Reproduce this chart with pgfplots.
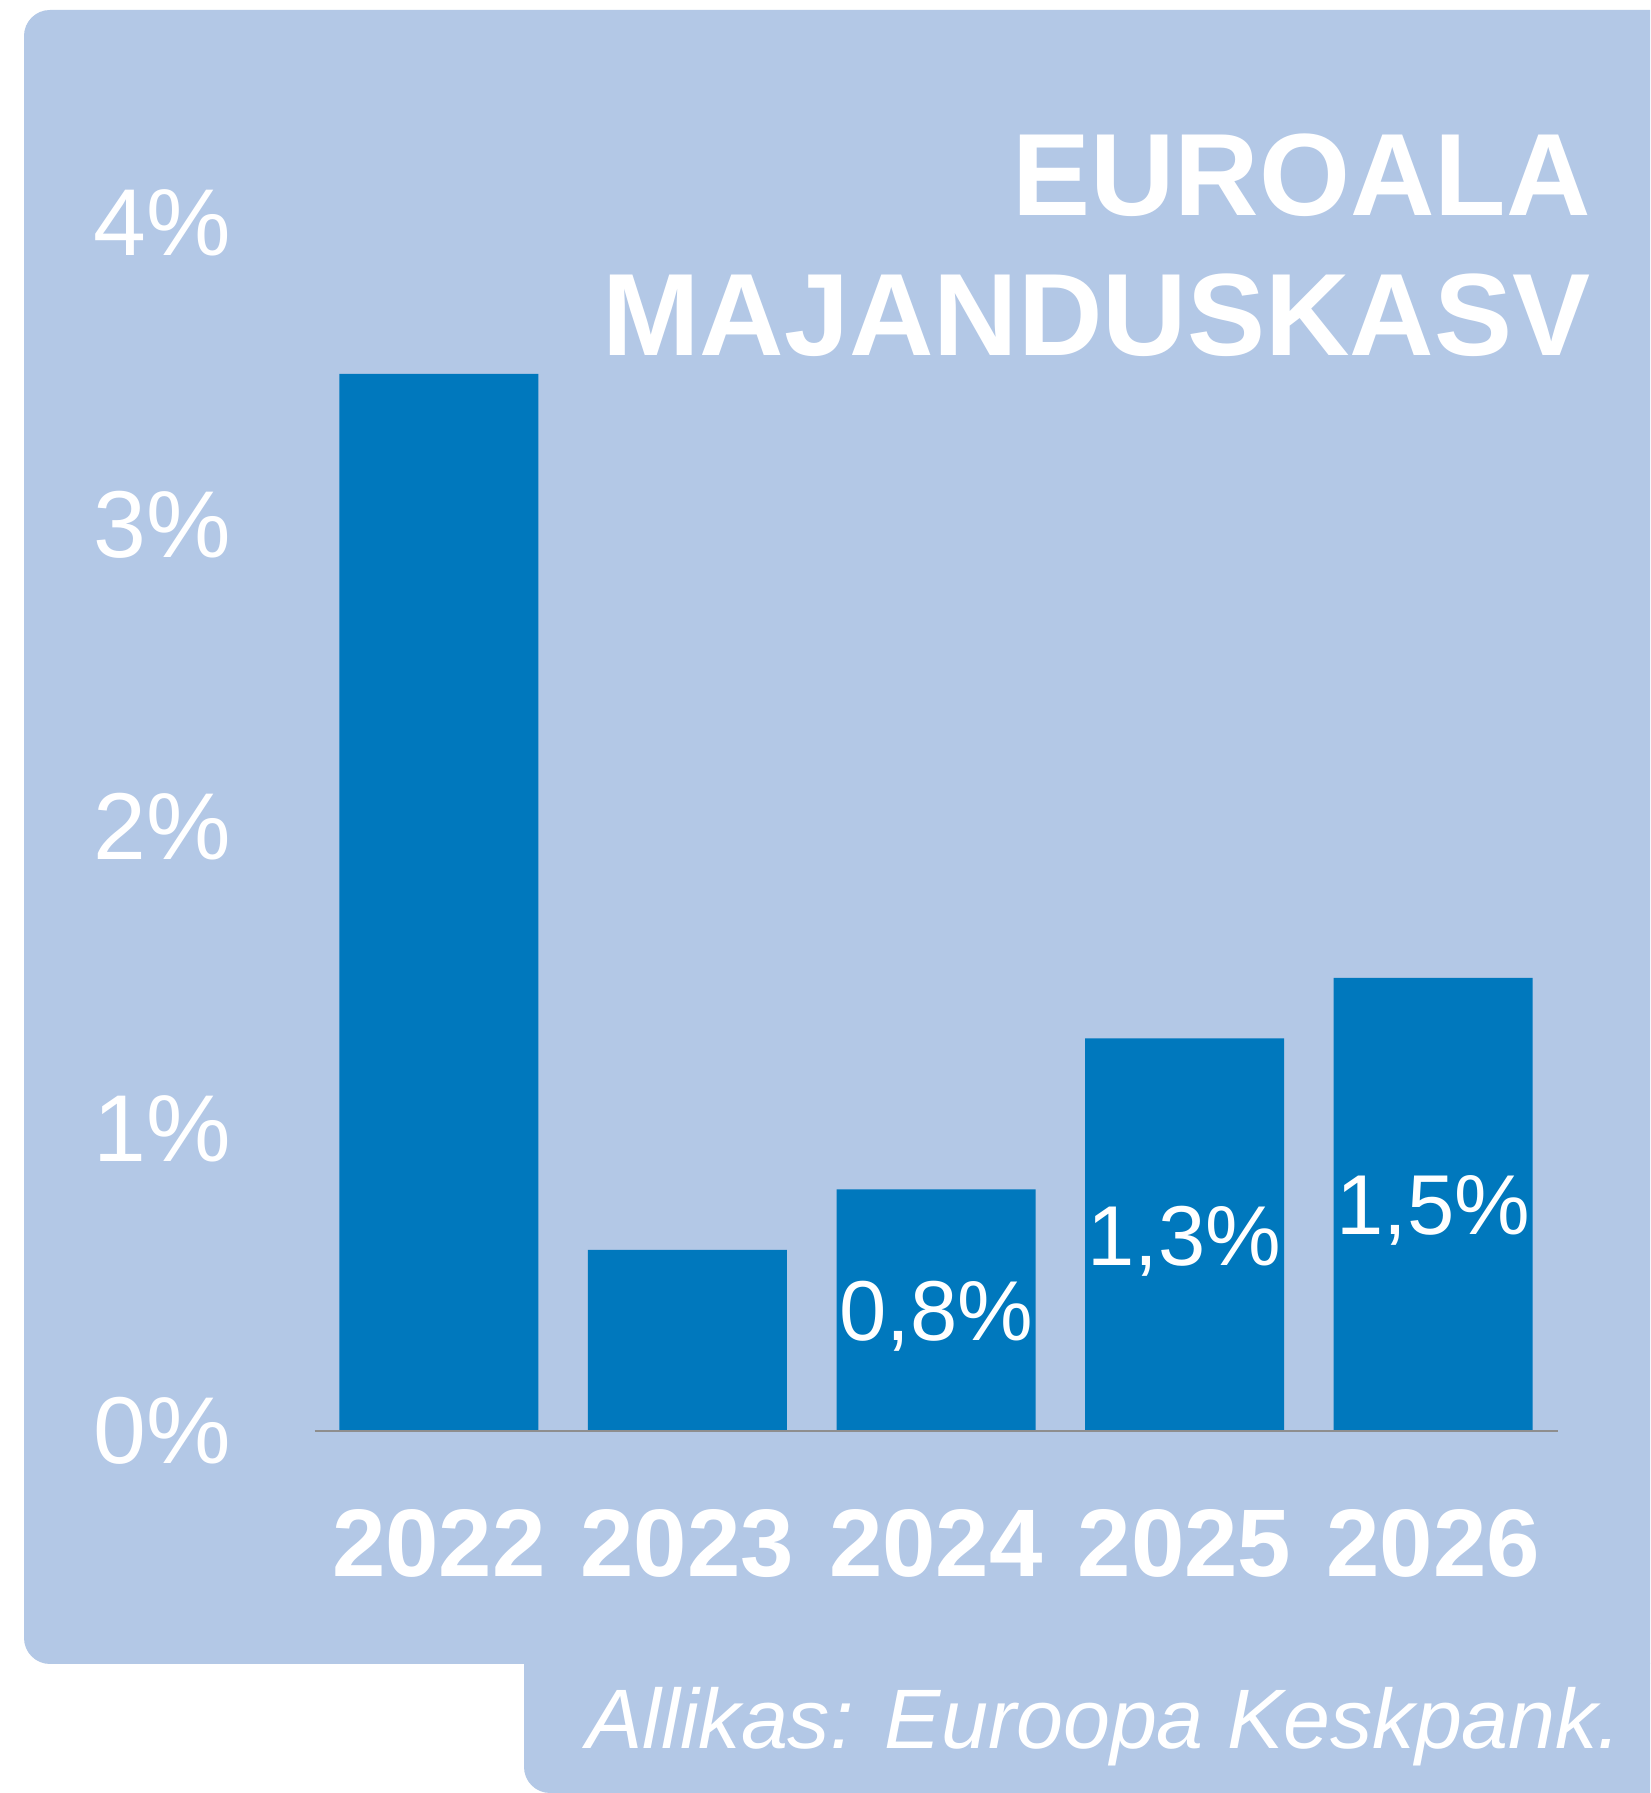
\documentclass[border=0pt]{standalone}
\usepackage{pgfplots}
\pgfplotsset{compat=1.18}
\usepackage{fontspec}
\setmainfont{Liberation Sans}
\definecolor{bgblue}{HTML}{B3C8E6}
\definecolor{barblue}{HTML}{0078BD}
\definecolor{basegray}{HTML}{8E8E8E}
\begin{document}
\begin{tikzpicture}[x=0.5pt,y=0.5pt]
\fill[white] (0,0) rectangle (1650,1793);
\useasboundingbox (0,0) rectangle (1650,1793);
% main panel
\fill[bgblue] (1650,1783) -- (50,1783) arc[start angle=90,end angle=180,radius=26]
  -- (24,155) arc[start angle=180,end angle=270,radius=26] -- (1650,129) -- cycle;
% source panel
\fill[bgblue] (524,130) -- (524,26) arc[start angle=180,end angle=270,radius=26]
  -- (1650,0) -- (1650,130) -- cycle;
\begin{axis}[
  at={(157.25pt,181pt)}, anchor=south west,
  scale only axis, width=621.5pt, height=604pt,
  xmin=-0.5, xmax=4.5, ymin=0, ymax=4,
  axis line style={draw=none},
  xtick={0,1,2,3,4},
  xticklabels={2022,2023,2024,2025,2026},
  ytick={0,1,2,3,4},
  yticklabels={0\%,1\%,2\%,3\%,4\%},
  major tick length=0pt,
  xtick style={draw=none}, ytick style={draw=none},
  yticklabel style={anchor=east, inner sep=0pt, xshift=-41.5pt, text=white,
    font=\fontsize{47.5}{47.5}\selectfont},
  xticklabel style={anchor=base, inner sep=0pt, yshift=-73pt, text=white,
    font=\fontsize{48}{48}\selectfont\bfseries},
  clip=false,
]
\addplot[ybar, bar width=99.5pt, fill=barblue, draw=none] coordinates {
  (0,3.5) (1,0.6) (2,0.8) (3,1.3) (4,1.5)
};
\draw[basegray, line width=0.9pt] (axis cs:-0.5,0) -- (axis cs:4.5,0);
\node[text=white, font=\fontsize{42.5}{42.5}\selectfont, anchor=base, inner sep=0pt, yshift=-15.2pt] at (axis cs:2,0.4) {0,8\%};
\node[text=white, font=\fontsize{42.5}{42.5}\selectfont, anchor=base, inner sep=0pt, yshift=-15.2pt] at (axis cs:3,0.65) {1,3\%};
\node[text=white, font=\fontsize{42.5}{42.5}\selectfont, anchor=base, inner sep=0pt, yshift=-15.2pt] at (axis cs:4,0.75) {1,5\%};
\end{axis}
\node[anchor=base east, inner sep=0pt, text=white, font=\fontsize{58.5}{58.5}\selectfont\bfseries] at (1591,1577) {EUROALA};
\node[anchor=base east, inner sep=0pt, text=white, font=\fontsize{58.5}{58.5}\selectfont\bfseries] at (1591,1437) {MAJANDUSKASV};
\node[anchor=base east, inner sep=0pt, text=white, font=\fontsize{42.2}{42.2}\selectfont\itshape] at (1622,44) {Allikas: Euroopa Keskpank.};
\end{tikzpicture}
\end{document}
